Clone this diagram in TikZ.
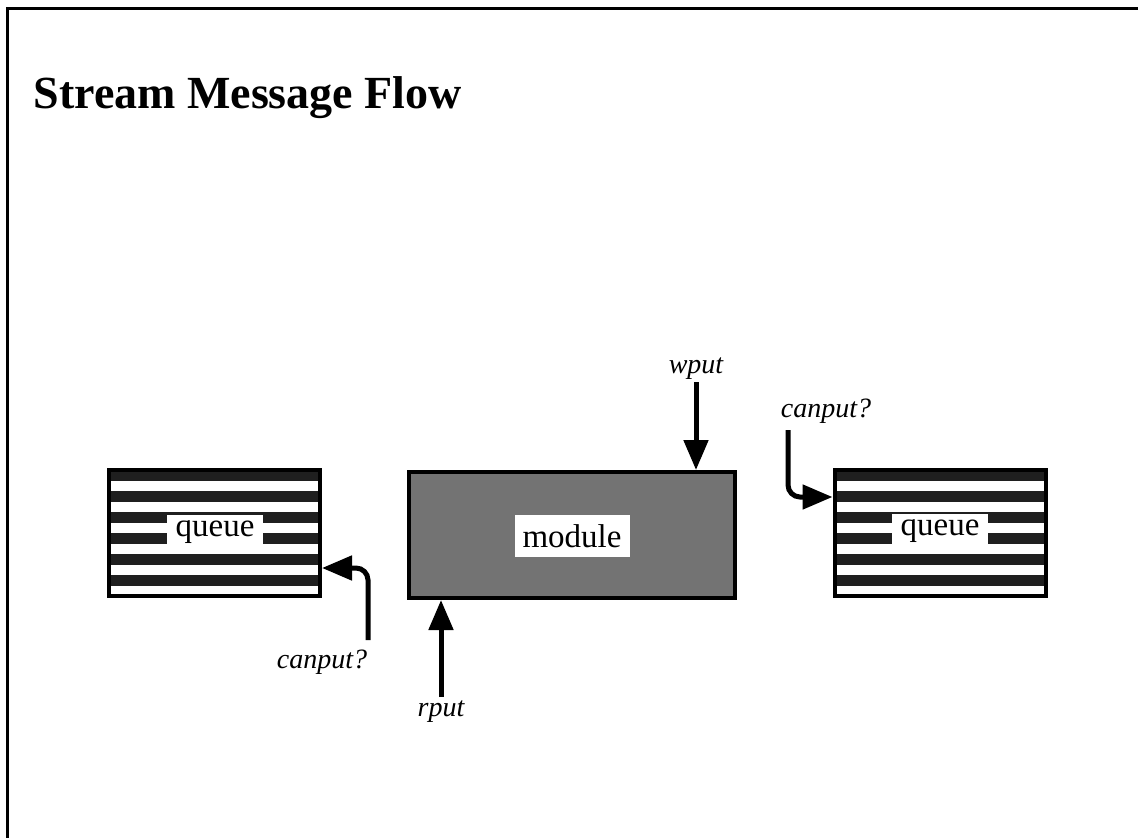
\documentclass[tikz,border=0pt]{standalone}
\usepackage{fontspec}
\setmainfont{Liberation Serif}
\usetikzlibrary{arrows.meta,calc}
\begin{document}
\begin{tikzpicture}[x=1pt,y=-1pt,
  box/.style={draw, line width=4pt, minimum height=126pt, inner sep=0pt},
  qbox/.style={box, minimum width=211pt,
    path picture={\foreach \k in {0,...,5}{\fill[black!88] ([yshift=-\k*21pt]path picture bounding box.north west) rectangle ++(400pt,-10.5pt);}}},
  mbox/.style={box, minimum width=326pt, fill=black!55},
  lbl/.style={fill=white, inner sep=0pt, font=\fontsize{33}{36}\selectfont},
  it/.style={font=\fontsize{28}{32}\selectfont\itshape, inner sep=3pt},
  arr/.style={line width=5pt, -{Triangle[length=30pt,width=24pt]}}
]
\useasboundingbox (0,0) rectangle (1138,838);
\draw[line width=3pt] (7,838) -- (7,8) -- (1138,8);
\node[anchor=base west, font=\fontsize{46}{50}\selectfont\bfseries] (title) at (30,108) {Stream Message Flow};

\node[qbox] (q1) at (214.5,533) {};
\node[lbl, minimum width=96pt, minimum height=35pt] (q1l) at (215,532) {queue};

\node[mbox] (mod) at (572,535) {};
\node[lbl, minimum width=115pt, minimum height=42pt] (modl) at (572,536) {module};

\node[qbox] (q2) at (940,533) {};
\node[lbl, minimum width=96pt, minimum height=35pt] (q2l) at (940,531) {queue};

\node[it, anchor=base] (wput) at (696,373) {wput};
\draw[arr] (wput.south) -- (wput.south |- mod.north);

\node[it, anchor=base] (rput) at (441,716) {rput};
\draw[arr] (rput.north) -- (rput.north |- mod.south);

\node[it, anchor=base] (canL) at (322,668) {canput?};
\coordinate (cls) at (368,640);
\draw[arr, rounded corners=12pt] (cls) |- ($(q1.east)+(0,35)$);

\node[it, anchor=base] (canR) at (826,417) {canput?};
\coordinate (crs) at (788,430);
\draw[arr, rounded corners=12pt] (crs) |- ($(q2.west)+(0,-36)$);
\end{tikzpicture}
\end{document}
